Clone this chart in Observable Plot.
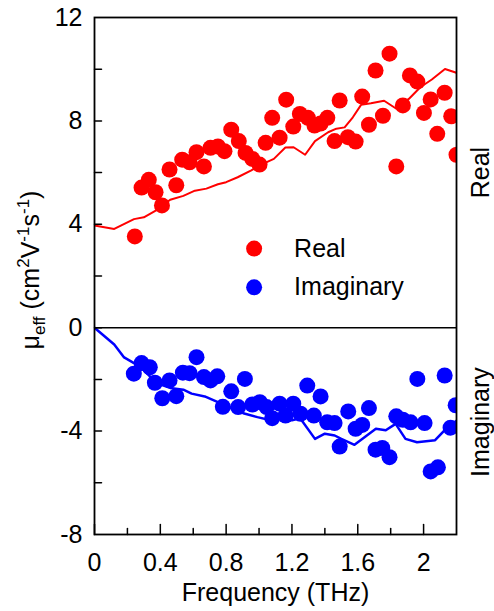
<!DOCTYPE html>
<html>
<head>
<meta charset="utf-8">
<script src="https://cdn.jsdelivr.net/npm/d3@7"></script>
<script src="https://cdn.jsdelivr.net/npm/@observablehq/plot@0.6"></script>
<style>
  html, body { margin: 0; padding: 0; background: white; }
</style>
</head>
<body>
<div id="chart"></div>
<script>
// Real part: measured points
const realX = [0.245,0.286,0.33,0.371,0.41,0.456,0.497,0.533,0.578,0.62,0.665,0.705,0.75,0.79,0.831,0.877,0.918,0.959,1.003,1.04,1.08,1.125,1.165,1.208,1.248,1.297,1.337,1.374,1.415,1.459,1.49,1.54,1.587,1.627,1.668,1.708,1.753,1.793,1.834,1.874,1.917,1.962,2.002,2.043,2.083,2.128,2.168,2.2];
const realY = [3.53,5.42,5.72,5.24,4.73,6.12,5.51,6.5,6.4,6.79,6.24,6.96,7.01,6.83,7.66,7.22,6.76,6.53,6.31,7.15,8.12,7.35,8.82,7.78,8.27,8.12,7.82,7.9,8.12,7.22,8.79,7.37,7.2,8.94,7.85,9.95,8.2,10.6,6.24,8.6,9.76,9.52,8.31,8.83,7.5,9.09,8.18,6.69];
// Real part: model line
const realLineX = [0,0.12,0.24,0.3,0.38,0.46,0.54,0.61,0.68,0.75,0.8,0.87,0.95,1.01,1.09,1.16,1.21,1.28,1.34,1.42,1.47,1.52,1.57,1.62,1.68,1.76,1.83,1.91,1.98,2.05,2.13,2.2];
const realLineY = [3.95,3.82,4.2,4.27,4.56,4.95,5.1,5.3,5.38,5.55,5.63,5.82,6.08,6.3,6.53,6.97,6.98,6.69,7.22,7.56,7.7,7.75,8.14,8.62,8.68,8.78,8.49,8.85,9.3,9.6,10.01,9.86];
// Imaginary part: measured points
const imagX = [0.239,0.286,0.336,0.367,0.412,0.456,0.497,0.537,0.578,0.62,0.665,0.705,0.746,0.78,0.831,0.873,0.914,0.959,1.005,1.046,1.08,1.125,1.161,1.208,1.252,1.293,1.333,1.374,1.414,1.459,1.49,1.542,1.587,1.627,1.668,1.708,1.749,1.793,1.834,1.874,1.921,1.962,2.006,2.043,2.087,2.128,2.164,2.195];
const imagY = [-1.78,-1.37,-1.53,-2.13,-2.73,-2.04,-2.65,-1.74,-1.76,-1.14,-1.91,-2.04,-1.88,-3.06,-2.46,-3.07,-1.98,-2.97,-2.88,-3.07,-3.5,-2.94,-3.4,-2.94,-3.33,-2.24,-3.4,-2.66,-3.66,-3.69,-4.6,-3.24,-3.91,-3.76,-3.11,-4.72,-4.65,-5.01,-3.43,-3.56,-3.66,-1.98,-3.69,-5.56,-5.4,-1.85,-3.87,-3.0];
// Imaginary part: model line
const imagLineX = [0,0.12,0.18,0.24,0.3,0.38,0.46,0.54,0.59,0.67,0.75,0.83,0.91,0.99,1.07,1.13,1.2,1.25,1.34,1.4,1.46,1.5,1.58,1.71,1.77,1.83,1.89,1.96,2.07,2.13,2.2];
const imagLineY = [0,-0.65,-1.15,-1.37,-1.65,-2.15,-2.33,-2.4,-2.55,-2.66,-2.88,-3.1,-3.32,-3.46,-3.58,-3.5,-3.58,-3.5,-4.3,-4.1,-4.17,-4.3,-4.53,-3.91,-3.97,-3.72,-4.3,-4.43,-4.35,-3.95,-3.6];

// Axes
const xTickLabels = [0,0.4,0.8,1.2,1.6,2];
const xTickMinor = [0.2,0.6,1.0,1.4,1.8];
const yTickLabels = [-8,-4,0,4,8,12];
const yTickAll = [-6,-4,-2,0,2,4,6,8,10];

// Legend
const legendLabels = ["Real","Imaginary"];
const legendColors = ["#ff0000","#0000ff"];
const legendX = [0.97, 0.97];
const legendY = [3.06, 1.56];
const sideLabels = ["Real","Imaginary"];
const sideY = [6, -3.65];

const RED = "#ff0000", BLUE = "#0000ff";
const realPts = realX.map((x,i)=>({x, y: realY[i]}));
const imagPts = imagX.map((x,i)=>({x, y: imagY[i]}));
const realLine = realLineX.map((x,i)=>({x, y: realLineY[i]}));
const imagLine = imagLineX.map((x,i)=>({x, y: imagLineY[i]}));
const legend = legendLabels.map((label,i)=>({label, color: legendColors[i], x: legendX[i], y: legendY[i]}));
const side = sideLabels.map((label,i)=>({label, y: sideY[i]}));

const FONT = "'Liberation Sans', Arial, Helvetica, sans-serif";
const tickShape = {draw(context, l) { context.moveTo(0, 0); context.lineTo(0, -l); }};

const chart = Plot.plot({
  width: 494,
  height: 611,
  marginLeft: 94,
  marginRight: 38,
  marginTop: 17,
  marginBottom: 77,
  style: {fontFamily: FONT, fontSize: "25px", color: "black", background: "white", overflow: "visible"},
  x: {domain: [0, 2.2]},
  y: {domain: [-8, 12]},
  marks: [
    Plot.line(realLine, {x: "x", y: "y", stroke: RED, strokeWidth: 2, clip: "frame"}),
    Plot.line(imagLine, {x: "x", y: "y", stroke: BLUE, strokeWidth: 2.5, clip: "frame"}),
    Plot.dot(realPts, {x: "x", y: "y", r: 8, fill: RED, stroke: null, clip: "frame"}),
    Plot.dot(imagPts, {x: "x", y: "y", r: 8, fill: BLUE, stroke: null, clip: "frame"}),
    Plot.ruleY([0], {stroke: "black", strokeWidth: 1.5}),
    Plot.frame({stroke: "black", strokeWidth: 1.8}),
    Plot.vector(xTickLabels, {x: d => d, y: -8, length: 10, rotate: 0, anchor: "start", shape: tickShape, stroke: "black", strokeWidth: 1.5}),
    Plot.vector(xTickMinor, {x: d => d, y: -8, length: 6, rotate: 0, anchor: "start", shape: tickShape, stroke: "black", strokeWidth: 1.5}),
    Plot.vector(yTickAll, {x: 0, y: d => d, length: 7, rotate: 90, anchor: "start", shape: tickShape, stroke: "black", strokeWidth: 1.5}),
    Plot.axisX({ticks: xTickLabels, tickSize: 0, tickPadding: 19, tickFormat: d => String(d), label: null, fontSize: 25}),
    Plot.axisY({ticks: yTickLabels, tickSize: 0, tickPadding: 12, tickFormat: d => String(d), label: null, fontSize: 25}),
    Plot.text(["Frequency (THz)"], {frameAnchor: "bottom", dy: 49, lineAnchor: "top", fontSize: 25, fill: "black"}),
    Plot.dot(legend, {x: "x", y: "y", r: 8, fill: "color", stroke: null}),
    Plot.text(legend, {x: "x", y: "y", text: "label", dx: 40, textAnchor: "start", fontSize: 25, fill: "black"}),
    Plot.text(side, {frameAnchor: "right", y: "y", text: "label", rotate: -90, dx: 24, textAnchor: "middle", lineAnchor: "middle", fontSize: 25, fill: "black"})
  ]
});

document.getElementById("chart").appendChild(chart);

// Rotated y-axis title with subscript / superscripts
const svg = d3.select(chart);
const t = svg.append("text")
  .attr("transform", "translate(39,270) rotate(-90)")
  .attr("text-anchor", "middle")
  .attr("fill", "black")
  .style("font-family", FONT)
  .style("font-size", "25px");
t.append("tspan").text("\u03bc");
t.append("tspan").attr("dy", 6).style("font-size", "17px").text("eff");
t.append("tspan").attr("dy", -6).text(" (cm");
t.append("tspan").attr("dy", -10).style("font-size", "17px").text("2");
t.append("tspan").attr("dy", 10).text("V");
t.append("tspan").attr("dy", -10).style("font-size", "17px").text("-1");
t.append("tspan").attr("dy", 10).text("s");
t.append("tspan").attr("dy", -10).style("font-size", "17px").text("-1");
t.append("tspan").attr("dy", 10).text(")");
</script>
</body>
</html>
